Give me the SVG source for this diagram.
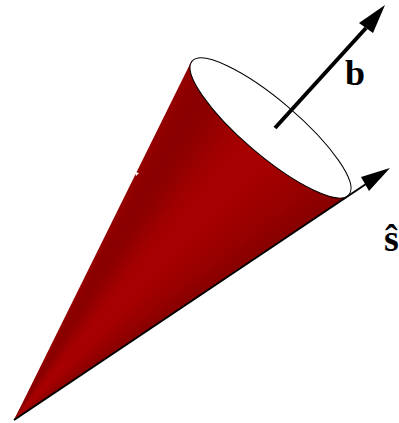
<svg xmlns="http://www.w3.org/2000/svg" width="399" height="423" viewBox="0 0 399 423">
<style>
.t{font-family:"Liberation Serif","Times New Roman",serif;font-weight:bold;fill:#000}
</style>
<rect width="399" height="423" fill="#fff"/>
<g id="cone">
<polygon points="14,420 192,60 345,198" fill="#930000"/>
<polygon points="14,420 198.4,65.8 345,198" fill="#8d0000"/>
<polygon points="14,420 204.8,71.5 345,198" fill="#8a0000"/>
<polygon points="14,420 211.1,77.3 345,198" fill="#8a0000"/>
<polygon points="14,420 217.5,83 345,198" fill="#8c0000"/>
<polygon points="14,420 223.9,88.8 345,198" fill="#900000"/>
<polygon points="14,420 230.3,94.5 345,198" fill="#950000"/>
<polygon points="14,420 236.6,100.3 345,198" fill="#9a0000"/>
<polygon points="14,420 243,106 345,198" fill="#9f0000"/>
<polygon points="14,420 249.4,111.8 345,198" fill="#a30000"/>
<polygon points="14,420 255.8,117.5 345,198" fill="#a60000"/>
<polygon points="14,420 262.1,123.3 345,198" fill="#a70000"/>
<polygon points="14,420 281.3,140.5 345,198" fill="#a60000"/>
<polygon points="14,420 287.6,146.3 345,198" fill="#a40000"/>
<polygon points="14,420 294,152 345,198" fill="#a10000"/>
<polygon points="14,420 300.4,157.8 345,198" fill="#9e0000"/>
<polygon points="14,420 306.8,163.5 345,198" fill="#9b0000"/>
<polygon points="14,420 313.1,169.3 345,198" fill="#980000"/>
<polygon points="14,420 319.5,175 345,198" fill="#950000"/>
<polygon points="14,420 325.9,180.8 345,198" fill="#910000"/>
<polygon points="14,420 332.3,186.5 345,198" fill="#8d0000"/>
<polygon points="14,420 338.6,192.3 345,198" fill="#890000"/>
<polygon points="135,172 139,173 136,176" fill="#fff"/>
</g>
<g id="rim">
<ellipse cx="270.5" cy="128" rx="103" ry="27.5" transform="rotate(40.4 270.5 128)" fill="#fff" stroke="#000" stroke-width="1"/>
</g>
<g id="connectors">
<line x1="14" y1="420" x2="366" y2="184" stroke="#000" stroke-width="2"/>
<polygon points="390,168 369,191 361,177" fill="#000"/>
<line x1="275" y1="128" x2="366" y2="28" stroke="#000" stroke-width="4"/>
<polygon points="385,5 373,33 359,23" fill="#000"/>
</g>
<text class="t" x="345" y="85" font-size="36">b</text>
<text class="t" x="384" y="251" font-size="38">ŝ</text>
</svg>
